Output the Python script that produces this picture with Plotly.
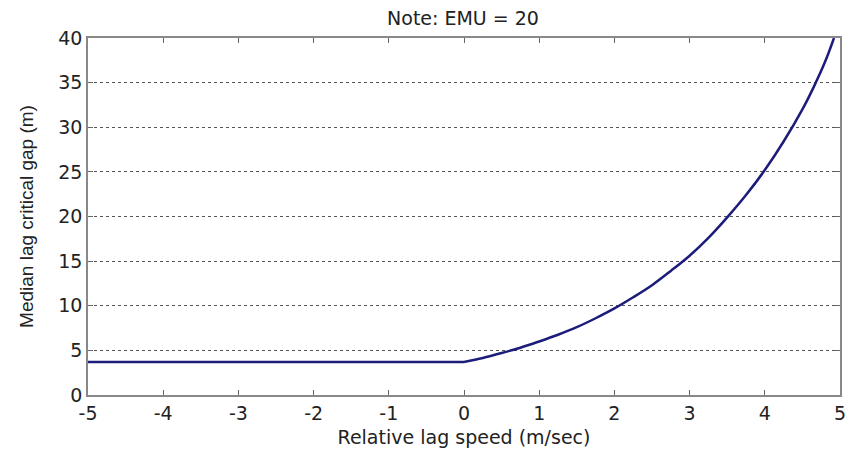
import plotly.graph_objects as go

# Data
flat_x = [-5, -4, -3, -2, -1, 0]
flat_y = [3.7, 3.7, 3.7, 3.7, 3.7, 3.7]
curve_x = [0, 0.25, 0.5, 0.75, 1.0, 1.25, 1.5, 1.75, 2.0, 2.25, 2.5, 2.75, 3.0, 3.25, 3.5, 3.75, 4.0, 4.25, 4.5, 4.65, 4.8, 4.92]
curve_y = [3.7, 4.15, 4.7, 5.3, 6.0, 6.75, 7.6, 8.6, 9.7, 10.95, 12.3, 13.9, 15.6, 17.6, 19.9, 22.4, 25.2, 28.4, 32.0, 34.5, 37.3, 40.0]
x_ticks = [-5, -4, -3, -2, -1, 0, 1, 2, 3, 4, 5]
y_ticks = [0, 5, 10, 15, 20, 25, 30, 35, 40]

line_color = "#1c1c7a"
fig = go.Figure()
fig.add_trace(go.Scatter(x=flat_x, y=flat_y, mode="lines",
                         line=dict(color=line_color, width=2.5, shape="linear"),
                         showlegend=False, hoverinfo="skip"))
fig.add_trace(go.Scatter(x=curve_x, y=curve_y, mode="lines",
                         line=dict(color=line_color, width=2.5, shape="spline", smoothing=1.0),
                         showlegend=False, hoverinfo="skip"))

wide = "DejaVu Sans, Verdana, sans-serif"
narrow = "Liberation Sans, Arial, sans-serif"
fig.update_layout(
    width=858, height=457,
    margin=dict(l=88, r=13, t=38, b=61),
    paper_bgcolor="white", plot_bgcolor="white",
    font=dict(family=wide, color="#222"),
    title=dict(text="Note: EMU = 20", x=463/858, xanchor="center", y=0.96, yanchor="middle",
               font=dict(size=19, family=wide, color="#222")),
)
fig.update_xaxes(range=[-5, 5], tickvals=x_ticks, ticktext=[str(v) for v in x_ticks],
                 showgrid=False, zeroline=False, showline=True, linecolor="#888", linewidth=1.5,
                 mirror="ticks", ticks="inside", ticklen=5, tickcolor="#666",
                 tickfont=dict(size=19, family=wide, color="#222"),
                 title=dict(text="Relative lag speed (m/sec)", font=dict(size=19, family=wide, color="#222"), standoff=8))
fig.update_yaxes(range=[0, 40], tickvals=y_ticks, ticktext=[str(v) for v in y_ticks],
                 showgrid=True, gridcolor="#555", griddash="dot", gridwidth=1,
                 zeroline=False, showline=True, linecolor="#888", linewidth=1.5,
                 mirror="ticks", ticks="inside", ticklen=5, tickcolor="#666",
                 tickfont=dict(size=19, family=wide, color="#222"),
                 title=dict(text="Median lag critical gap (m)", font=dict(size=19, family=narrow, color="#222"), standoff=20))

fig.write_html("out.html")
